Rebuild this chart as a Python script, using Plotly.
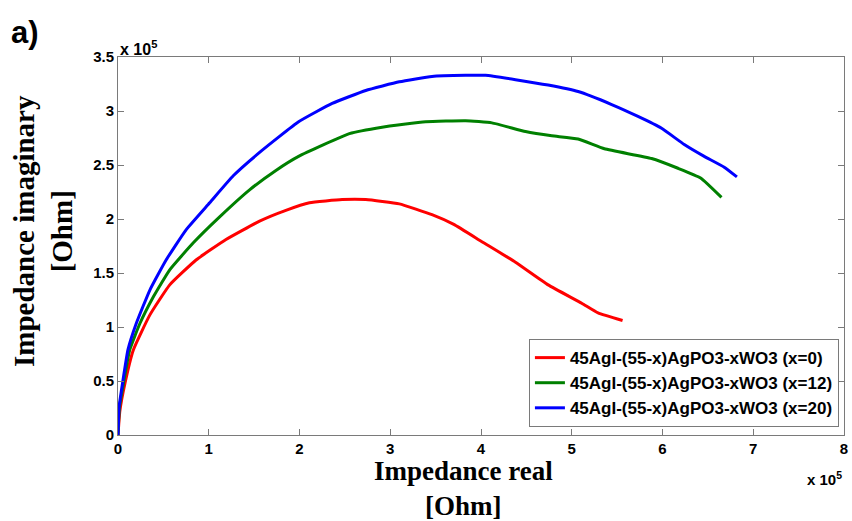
import plotly.graph_objects as go

# Impedance values in units of 1e5 Ohm
red_x = [0, 0.02, 0.077, 0.17, 0.35, 0.57, 0.86, 1.19, 1.56, 1.85, 2.11, 2.47, 2.73, 3.10, 3.46, 3.70, 4.01, 4.38, 4.74, 5.11, 5.29, 5.56]
red_y = [0, 0.22, 0.48, 0.79, 1.11, 1.39, 1.62, 1.81, 1.98, 2.08, 2.15, 2.18, 2.18, 2.14, 2.04, 1.95, 1.79, 1.60, 1.39, 1.22, 1.13, 1.06]

green_x = [0, 0.015, 0.06, 0.13, 0.24, 0.39, 0.57, 0.83, 1.12, 1.45, 1.74, 1.99, 2.55, 2.91, 3.39, 3.83, 4.12, 4.49, 4.78, 5.07, 5.36, 5.88, 6.17, 6.42, 6.65]
green_y = [0, 0.25, 0.48, 0.79, 1.03, 1.28, 1.53, 1.78, 2.02, 2.27, 2.45, 2.58, 2.79, 2.85, 2.90, 2.91, 2.89, 2.81, 2.77, 2.74, 2.65, 2.56, 2.47, 2.38, 2.20]

blue_x = [0, 0.012, 0.05, 0.11, 0.20, 0.35, 0.53, 0.75, 1.01, 1.27, 1.58, 1.99, 2.36, 2.73, 3.10, 3.46, 3.83, 4.05, 4.38, 4.74, 5.07, 5.44, 5.73, 5.99, 6.24, 6.46, 6.68, 6.82]
blue_y = [0, 0.26, 0.48, 0.79, 1.03, 1.34, 1.62, 1.90, 2.15, 2.40, 2.63, 2.90, 3.07, 3.19, 3.27, 3.32, 3.33, 3.33, 3.29, 3.24, 3.18, 3.06, 2.95, 2.84, 2.69, 2.58, 2.48, 2.39]

series_names = [
    "45AgI-(55-x)AgPO3-xWO3 (x=0)",
    "45AgI-(55-x)AgPO3-xWO3 (x=12)",
    "45AgI-(55-x)AgPO3-xWO3 (x=20)",
]
x_ticks = [0, 1, 2, 3, 4, 5, 6, 7, 8]
y_ticks = [0, 0.5, 1, 1.5, 2, 2.5, 3, 3.5]
y_tick_text = ["0", "0.5", "1", "1.5", "2", "2.5", "3", "3.5"]

colors = ["#ff0000", "#008000", "#0000ff"]

fig = go.Figure()
for xs, ys, name, c in zip([red_x, green_x, blue_x], [red_y, green_y, blue_y], series_names, colors):
    fig.add_trace(go.Scatter(x=xs, y=ys, mode="lines", name=name,
                             line=dict(color=c, width=3, shape="spline", smoothing=0.4)))

axis_common = dict(
    showline=True, linecolor="#7a7a7a", linewidth=1, mirror="ticks",
    ticks="inside", ticklen=6, tickcolor="#7a7a7a", showgrid=False, zeroline=False,
    ticklabeloverflow="allow",
    tickfont=dict(family="Arial, Liberation Sans", size=15, color="black", weight="bold"),
)

fig.update_layout(
    width=852, height=521,
    margin=dict(l=118, r=4, t=57, b=86),
    paper_bgcolor="white", plot_bgcolor="white",
    xaxis=dict(range=[0, 8], tickvals=x_ticks, ticktext=[str(t) for t in x_ticks], **axis_common),
    yaxis=dict(range=[0, 3.5], tickvals=y_ticks, ticktext=y_tick_text, **axis_common),
    legend=dict(x=0.993, y=0.021, xanchor="right", yanchor="bottom",
                bordercolor="#7a7a7a", borderwidth=1, bgcolor="white",
                font=dict(family="Arial, Liberation Sans", size=17, color="black", weight="bold"),
                tracegroupgap=0, itemwidth=30),
    showlegend=True,
)

PW, PH, L, B = 730, 378, 118, 435

def px(xp):
    return (xp - L) / PW

def py(yp):
    return (B - yp) / PH

fig.add_annotation(text="<b>a)</b>", xref="paper", yref="paper", x=px(8), y=py(32),
                   xanchor="left", yanchor="middle", showarrow=False,
                   font=dict(family="Arial, Liberation Sans", size=31, color="black"))
fig.add_annotation(text="<b>x 10<sup>5</sup></b>", xref="paper", yref="paper", x=0, y=1,
                   xanchor="left", yanchor="bottom", showarrow=False, yshift=-3,
                   font=dict(family="Arial, Liberation Sans", size=16, color="black"))
fig.add_annotation(text="<b>x 10<sup>5</sup></b>", xref="paper", yref="paper", x=1, y=0,
                   xanchor="right", yanchor="top", showarrow=False, yshift=-32,
                   font=dict(family="Arial, Liberation Sans", size=15, color="black"))
fig.add_annotation(text="<b>Impedance real<br>[Ohm]</b>", xref="paper", yref="paper", x=px(465), y=0,
                   xanchor="center", yanchor="top", showarrow=False, yshift=-19,
                   font=dict(family="Liberation Serif, Times New Roman", size=27, color="black"))
fig.add_annotation(text="<b>Impedance imaginary<br>[Ohm]</b>", xref="paper", yref="paper", x=0, y=py(231),
                   xanchor="right", yanchor="middle", showarrow=False, xshift=-38, textangle=-90,
                   font=dict(family="Liberation Serif, Times New Roman", size=29, color="black"))

fig.write_html("out.html")
